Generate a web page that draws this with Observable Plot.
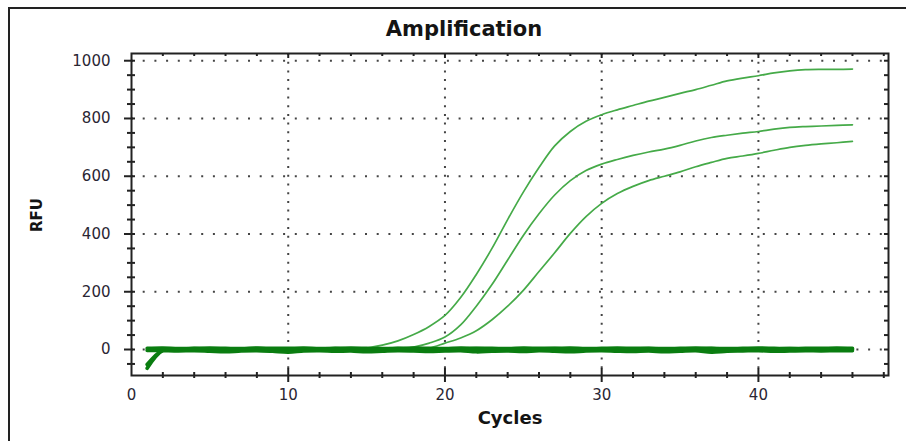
<!DOCTYPE html>
<html><head><meta charset="utf-8">
<script src="https://cdn.jsdelivr.net/npm/d3@7"></script>
<script src="https://cdn.jsdelivr.net/npm/@observablehq/plot@0.6"></script>
<style>
body{margin:0;background:#fff;}
#wrap{position:relative;width:906px;height:441px;overflow:hidden;background:#fff;}
#border{position:absolute;left:8px;top:7px;width:910px;height:450px;border-left:2px solid #222;border-top:2px solid #222;}
#chart{position:absolute;left:0;top:0;}
.t{position:absolute;font-family:"DejaVu Sans",sans-serif;font-weight:bold;color:#141414;white-space:nowrap;line-height:1;transform:translate(-50%,-50%);}
</style></head><body>
<div id="wrap">
  <div id="border"></div>
  <div id="chart"></div>
  <div class="t" style="left:464px;top:29px;font-size:21px;">Amplification</div>
  <div class="t" style="left:510px;top:418px;font-size:18px;">Cycles</div>
  <div class="t" style="left:37px;top:215px;font-size:15px;transform:translate(-50%,-50%) rotate(-90deg);">RFU</div>
</div>
<script>
const cycles = [1,2,3,4,5,6,7,8,9,10,11,12,13,14,15,16,17,18,19,20,21,22,23,24,25,26,27,28,29,30,31,32,33,34,35,36,37,38,39,40,41,42,43,44,45,46];

const curveA = [0,0,0,0,0,0,0,0,0,0,0,0,0,0,5,15,30,52,80,118,180,260,350,450,545,630,705,755,790,813,830,845,860,873,887,900,915,930,940,948,958,965,969,970,970,971];
const curveB = [0,0,0,0,0,0,0,0,0,0,0,0,0,0,0,0,0,8,22,43,85,150,225,310,395,470,535,585,620,642,658,672,684,694,707,722,734,742,749,755,763,769,772,774,776,778];
const curveC = [0,0,0,0,0,0,0,0,0,0,0,0,0,0,0,0,0,0,5,22,40,65,103,150,205,270,335,402,460,506,540,565,585,600,615,633,648,662,670,679,690,700,707,712,716,721];

const base1 = [-65,-3,0,1,0,-1,0,1,0,0,-1,0,1,0,-1,0,0,1,0,-1,0,0,1,0,0,-1,0,1,0,0,-1,0,0,1,0,0,-1,0,0,1,0,0,0,-1,0,0];
const base2 = [-52,-2,2,3,2,1,2,3,2,2,1,2,3,2,1,2,3,2,2,1,2,3,2,2,1,2,3,2,2,1,2,2,3,2,1,2,3,2,2,1,2,3,2,2,1,2];
const base3 = [-3,-4,-5,-4,-6,-8,-5,-4,-6,-9,-5,-4,-6,-5,-8,-6,-4,-5,-7,-5,-4,-8,-6,-5,-7,-4,-6,-8,-5,-4,-6,-7,-5,-8,-6,-4,-9,-6,-5,-4,-6,-5,-4,-5,-4,-4];
const base4 = [4,5,3,4,5,4,3,5,4,4,5,3,4,5,4,3,4,5,4,3,5,4,4,3,5,4,4,5,3,4,5,4,4,3,4,5,4,3,4,5,4,3,4,4,5,4];

const xTicks = [0,10,20,30,40];
const xGrid = [10,20,30,40];
const xMinor = [2,4,6,8,12,14,16,18,22,24,26,28,32,34,36,38,42,44,46,48];
const yTicks = [0,200,400,600,800,1000];
const yMinor = [-50,50,100,150,250,300,350,450,500,550,650,700,750,850,900,950];

const tidy = (names, arrays) => names.flatMap((n, i) => cycles.map((c, j) => ({series: n, cycle: c, rfu: arrays[i][j]})));
const amp = tidy(["A","B","C"], [curveA, curveB, curveC]);
const base = tidy(["b1","b2","b3","b4"], [base1, base2, base3, base4]);

const W = 906, H = 441, mL = 131, mR = 18, mT = 53, mB = 66;
const iw = W - mL - mR, ih = H - mT - mB;

const chart = Plot.plot({
  width: W, height: H,
  marginLeft: mL, marginRight: mR, marginTop: mT, marginBottom: mB,
  style: {fontFamily: "DejaVu Sans, sans-serif", fontSize: "15px", color: "#222", background: "transparent"},
  x: {domain: [0, 48.3], label: null},
  y: {domain: [-90, 1025], label: null},
  marks: [
    Plot.gridX(xGrid, {stroke: "#444", strokeOpacity: 1, strokeWidth: 2, strokeDasharray: "2,6.7"}),
    Plot.gridY(yTicks, {stroke: "#444", strokeOpacity: 1, strokeWidth: 2, strokeDasharray: "2,9.7"}),
    Plot.line(amp, {x: "cycle", y: "rfu", z: "series", stroke: "#45aa48", strokeWidth: 1.7, curve: "catmull-rom"}),
    Plot.line(base, {x: "cycle", y: "rfu", z: "series", stroke: "#0a7d10", strokeWidth: 3.6, curve: "catmull-rom"}),
    Plot.frame({stroke: "#222", strokeWidth: 2}),
    Plot.tickY(yMinor, {y: d => d, stroke: "#222", strokeWidth: 2, insetLeft: -4, insetRight: iw - 4}),
    Plot.tickY(yTicks, {y: d => d, stroke: "#222", strokeWidth: 2, insetLeft: -7, insetRight: iw - 4}),
    Plot.tickY(yMinor.concat(yTicks), {y: d => d, stroke: "#222", strokeWidth: 2, insetLeft: iw - 4, insetRight: 0}),
    Plot.tickX(xMinor, {x: d => d, stroke: "#222", strokeWidth: 2, insetTop: ih - 3, insetBottom: -3}),
    Plot.tickX(xGrid, {x: d => d, stroke: "#222", strokeWidth: 2, insetTop: ih - 7, insetBottom: -7}),
    Plot.tickX(xMinor, {x: d => d, stroke: "#222", strokeWidth: 2, insetTop: 0, insetBottom: ih - 3}),
    Plot.tickX(xGrid, {x: d => d, stroke: "#222", strokeWidth: 2, insetTop: 0, insetBottom: ih - 5}),
    Plot.axisY(yTicks, {tickSize: 0, tickPadding: 21, fontSize: 15, fill: "#2a2633", label: null, tickFormat: d => String(d)}),
    Plot.axisX(xTicks, {tickSize: 0, tickPadding: 14, fontSize: 15, fill: "#2a2633", label: null, tickFormat: d => String(d)})
  ]
});
document.getElementById("chart").appendChild(chart);
</script>
</body></html>
